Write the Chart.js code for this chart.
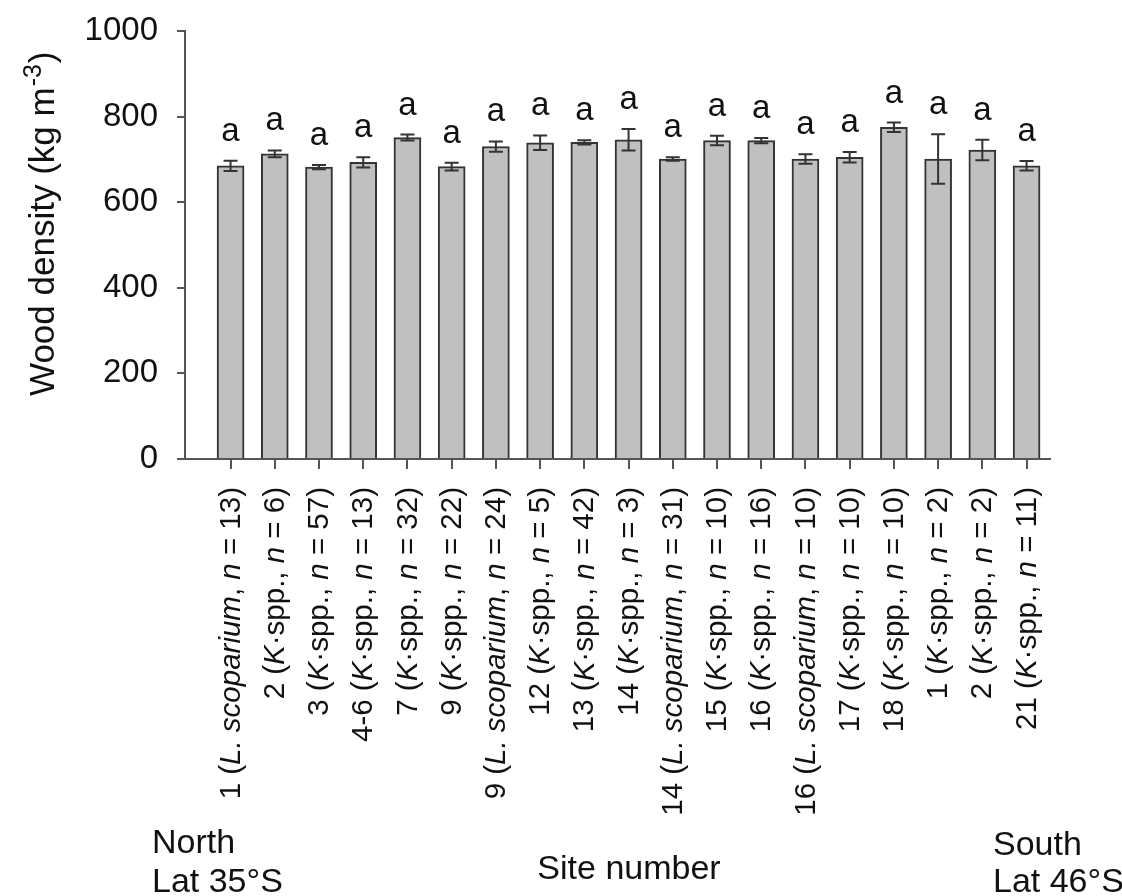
<!DOCTYPE html>
<html>
<head>
<meta charset="utf-8">
<script src="https://cdn.jsdelivr.net/npm/chart.js@4.4.0/dist/chart.umd.min.js"></script>
<style>
  html, body { margin: 0; padding: 0; background: #fff; }
  #wrap { width: 1122px; height: 896px; }
</style>
</head>
<body>
<div id="wrap"><canvas id="chart"></canvas></div>
<script>
// Gegevens per site (noord -> zuid)
const sites      = ['1', '2', '3', '4-6', '7', '9', '9', '12', '13', '14', '14', '15', '16', '16', '17', '18', '1', '2', '21'];
const genus      = ['L', 'K', 'K', 'K', 'K', 'K', 'L', 'K', 'K', 'K', 'L', 'K', 'K', 'L', 'K', 'K', 'K', 'K', 'K'];
const nValues    = [13, 6, 57, 13, 32, 22, 24, 5, 42, 3, 31, 10, 16, 10, 10, 10, 2, 2, 11];
const density    = [685, 713, 682, 693, 751, 683, 730, 739, 740, 746, 701, 744, 744, 701, 705, 775, 701, 722, 685];
const densityErr = [12, 8, 5, 12, 7, 9, 12, 17, 5, 25, 4, 11, 6, 11, 12, 11, 58, 24, 11];
const letters    = ['a', 'a', 'a', 'a', 'a', 'a', 'a', 'a', 'a', 'a', 'a', 'a', 'a', 'a', 'a', 'a', 'a', 'a', 'a'];
const yTicks     = [0, 200, 400, 600, 800, 1000];

const FONT = "'Liberation Sans', Arial, Helvetica, sans-serif";
const INK  = '#111';
const AXIS = '#555';

function labelParts(i) {
  const parts = [{ t: sites[i] + ' (', it: false }];
  if (genus[i] === 'L') parts.push({ t: 'L. scoparium', it: true }, { t: ', ', it: false });
  else parts.push({ t: 'K', it: true }, { t: '\u00B7spp., ', it: false });
  parts.push({ t: 'n', it: true }, { t: ' = ' + nValues[i] + ')', it: false });
  return parts;
}

// Foutbalken, letters, labels en titels
const decorations = {
  id: 'decorations',
  afterDatasetsDraw(chart) {
    const { ctx, scales: { x, y } } = chart;
    ctx.save();

    // Foutbalken
    ctx.strokeStyle = '#333';
    ctx.lineWidth = 2;
    density.forEach((m, i) => {
      const px = x.getPixelForValue(i);
      const top = y.getPixelForValue(m + densityErr[i]);
      const bot = y.getPixelForValue(m - densityErr[i]);
      ctx.beginPath();
      ctx.moveTo(px, top); ctx.lineTo(px, bot);
      ctx.moveTo(px - 7, top); ctx.lineTo(px + 7, top);
      ctx.moveTo(px - 7, bot); ctx.lineTo(px + 7, bot);
      ctx.stroke();
    });

    // Letters boven de balken
    ctx.fillStyle = INK;
    ctx.font = `33px ${FONT}`;
    ctx.textAlign = 'center';
    ctx.textBaseline = 'alphabetic';
    density.forEach((m, i) => {
      const px = x.getPixelForValue(i);
      const top = y.getPixelForValue(m + densityErr[i]);
      ctx.fillText(letters[i], px, top - 20);
    });

    // Gedraaide x-labels met cursieve delen
    ctx.textAlign = 'left';
    ctx.textBaseline = 'middle';
    sites.forEach((_, i) => {
      const parts = labelParts(i);
      let total = 0;
      parts.forEach(p => {
        ctx.font = `${p.it ? 'italic ' : ''}29.5px ${FONT}`;
        p.w = ctx.measureText(p.t).width;
        total += p.w;
      });
      ctx.save();
      ctx.translate(x.getPixelForValue(i) + 1, y.bottom + 28);
      ctx.rotate(-Math.PI / 2);
      let cx = -total;
      parts.forEach(p => {
        ctx.font = `${p.it ? 'italic ' : ''}29.5px ${FONT}`;
        ctx.fillText(p.t, cx, 0);
        cx += p.w;
      });
      ctx.restore();
    });

    // y-as titel met superscript
    ctx.save();
    ctx.translate(54, 396);
    ctx.rotate(-Math.PI / 2);
    ctx.textBaseline = 'alphabetic';
    ctx.font = `35px ${FONT}`;
    const t1 = 'Wood density (kg m';
    ctx.fillText(t1, 0, 0);
    let tx = ctx.measureText(t1).width;
    ctx.font = `25px ${FONT}`;
    ctx.fillText('-3', tx + 1, -13);
    tx += ctx.measureText('-3').width + 2;
    ctx.font = `35px ${FONT}`;
    ctx.fillText(')', tx, 0);
    ctx.restore();

    // Onderste teksten
    ctx.font = `34px ${FONT}`;
    ctx.textBaseline = 'alphabetic';
    ctx.textAlign = 'left';
    ctx.fillText('North', 152, 853);
    ctx.fillText('Lat 35\u00B0S', 152, 892);
    ctx.fillText('South', 993, 855);
    ctx.fillText('Lat 46\u00B0S', 993, 892);
    ctx.textAlign = 'center';
    ctx.fillText('Site number', 629, 879);

    ctx.restore();
  }
};

const ctx = document.getElementById('chart').getContext('2d');
new Chart(ctx, {
  type: 'bar',
  data: {
    datasets: [{
      data: density.map((v, i) => ({ x: i, y: v })),
      backgroundColor: '#c0c0c0',
      borderColor: '#333',
      borderWidth: 2,
      borderSkipped: 'bottom',
      barThickness: 27
    }]
  },
  options: {
    responsive: true,
    maintainAspectRatio: false,
    animation: false,
    layout: { padding: { top: 31, right: 72, bottom: 0, left: 0 } },
    plugins: { legend: { display: false }, tooltip: { enabled: false } },
    scales: {
      x: {
        type: 'linear',
        offset: false,
        min: -1.03,
        max: 18.53,
        afterBuildTicks: s => { s.ticks = sites.map((_, i) => ({ value: i })); },
        afterFit: s => { s.height = 896 - 459; s.paddingLeft = 0; s.paddingRight = 0; },
        ticks: { display: false },
        grid: { offset: false, drawOnChartArea: false, drawTicks: true, tickLength: 10, color: AXIS, lineWidth: 2 },
        border: { color: AXIS, width: 2 }
      },
      y: {
        min: 0,
        max: 1000,
        afterBuildTicks: s => { s.ticks = yTicks.map(v => ({ value: v })); },
        afterFit: s => { s.width = 185; s.paddingTop = 0; s.paddingBottom = 0; },
        ticks: { font: { size: 33, family: FONT }, color: INK, padding: 19, callback: v => String(v) },
        grid: { drawOnChartArea: false, drawTicks: true, tickLength: 8, color: AXIS, lineWidth: 2 },
        border: { color: AXIS, width: 2 }
      }
    }
  },
  plugins: [decorations]
});
</script>
</body>
</html>
